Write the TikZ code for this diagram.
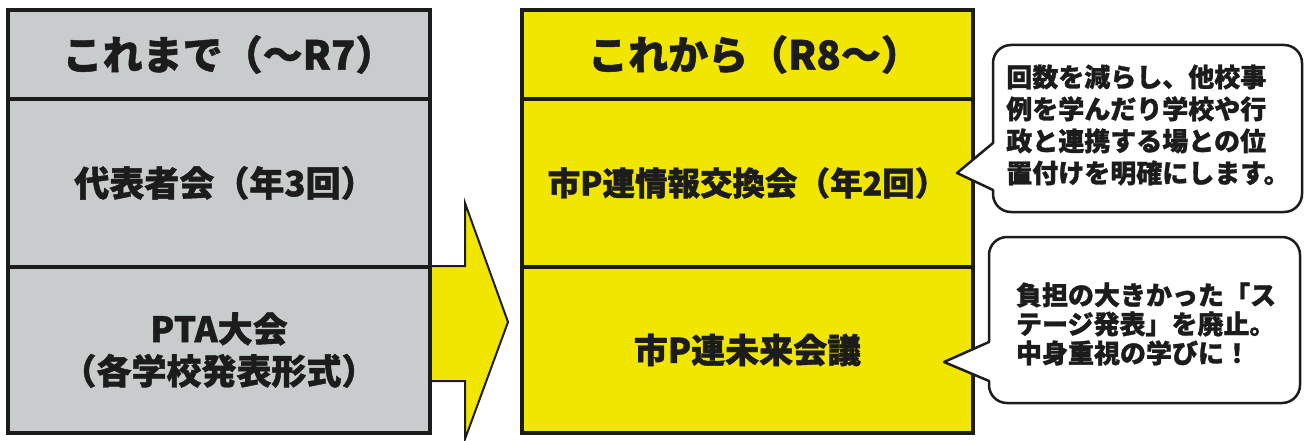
\documentclass[tikz,border=0pt]{standalone}
\usepackage{fontspec}
\newfontfamily\jp{Noto Sans CJK JP}[BoldFeatures={FakeBold=1.2}]
\definecolor{pgray}{RGB}{201,204,204}
\definecolor{pyel}{RGB}{240,230,0}
\definecolor{ink}{RGB}{28,28,28}
\begin{document}
\begin{tikzpicture}[x=1pt,y=-1pt,
  sect/.style={draw=ink, line width=4pt, inner sep=0pt, outer sep=0pt, text=ink},
  lsect/.style={sect, fill=pgray, minimum width=422pt},
  rsect/.style={sect, fill=pyel, minimum width=451pt},
  headf/.style={font=\jp\bfseries\fontsize{40}{46}\selectfont},
  bodyf/.style={font=\jp\bfseries\fontsize{35}{42}\selectfont, align=center},
  rbodyf/.style={font=\jp\bfseries\fontsize{32.5}{42}\selectfont, align=center},
  callout/.style={draw=ink, line width=2.5pt, fill=white, line join=round},
  note/.style={font=\jp\bfseries\fontsize{26}{32}\selectfont, align=left, inner sep=0pt, text=ink}]
\useasboundingbox (0,0) rectangle (1305,441);
% arrow
\draw[draw=ink, line width=2pt, fill=pyel, line join=miter]
  (425,266) -- (465,266) -- (465,203) -- (508,322) -- (465,439) -- (465,381) -- (425,381);
% left panel
\node[lsect, headf, minimum height=89pt] (lh) at (219,54.5) {\hspace*{20pt}これまで（～R7）};
\node[lsect, bodyf, minimum height=168pt] (lm) at (219,183) {\hspace*{12pt}代表者会（年3回）};
\node[lsect, bodyf, minimum height=166pt] (lb) at (219,350) {PTA大会\\（各学校発表形式）};
% right panel
\node[rsect, headf, minimum height=89pt] (rh) at (747.5,54.5) {\hspace*{14pt}これから（R8～）};
\node[rsect, rbodyf, minimum height=168pt] (rm) at (747.5,183) {市P連情報交換会（年2回）};
\node[rsect, rbodyf, font=\jp\bfseries\fontsize{34}{42}\selectfont, minimum height=166pt] (rb) at (747.5,350) {市P連未来会議};
% callouts
\draw[callout] (993,143) -- (957,173) -- (993,190) -- (993,194)
  [rounded corners=18pt] -- (993,212) -- (1302,212) -- (1302,45) -- (993,45) -- (993,120)
  [sharp corners] -- cycle;
\node[note] (c1) at (1148,125) {回数を減らし、他校事\\例を学んだり学校や行\\政と連携する場との位\\置付けを明確にします。};
\draw[callout] (989,342) -- (944,362) -- (989,381) -- (989,385)
  [rounded corners=18pt] -- (989,403) -- (1300,403) -- (1300,237) -- (989,237) -- (989,320)
  [sharp corners] -- cycle;
\node[note, font=\jp\bfseries\fontsize{26}{29}\selectfont] (c2) at (1146,324) {負担の大きかった「ス\\テージ発表」を廃止。\\中身重視の学びに！};
\end{tikzpicture}
\end{document}
